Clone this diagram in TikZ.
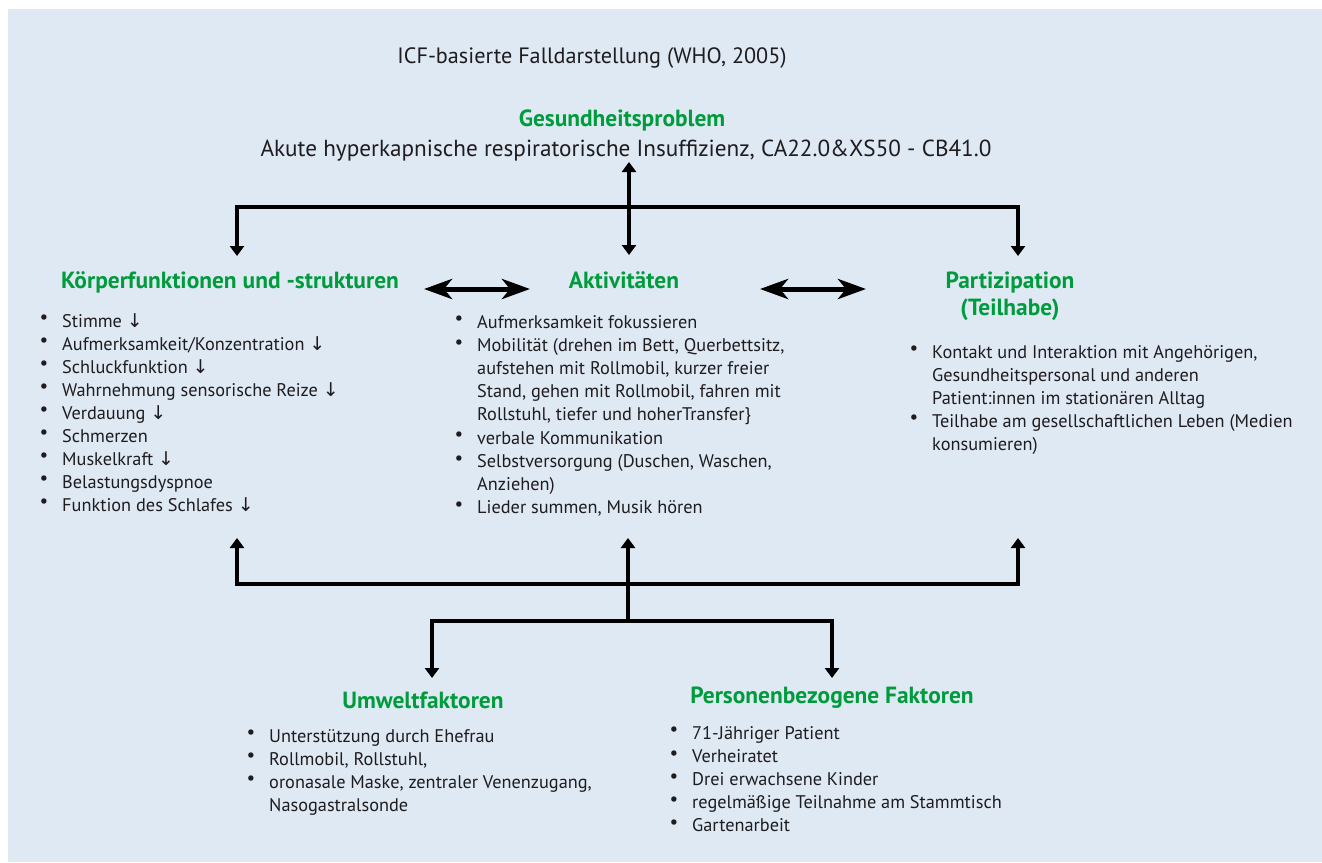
\documentclass[tikz,border=0pt]{standalone}
\usepackage{fontspec}
\setmainfont{PT Sans}
\newfontfamily\symf{DejaVu Sans}
\usetikzlibrary{arrows.meta}
\definecolor{bgc}{RGB}{223,233,244}
\definecolor{hgreen}{RGB}{0,155,60}
\definecolor{txt}{RGB}{30,28,30}
\newcommand{\bul}{\leavevmode\llap{\raisebox{0.35ex}{\scalebox{1.05}{\textbullet}}\hspace{14pt}}}
\newcommand{\dn}{{\symf\fontsize{19}{19}\selectfont ↓}}
\tikzset{
  hdr/.style={inner sep=0pt, text=hgreen, font=\bfseries\fontsize{23.4}{27}\selectfont},
  big/.style={inner sep=0pt, text=txt, font=\fontsize{23.2}{26}\selectfont},
  lst/.style={inner sep=0pt, text=txt, anchor=base west, font=\fontsize{18.3}{23}\selectfont},
  conn/.style={line width=3.5pt, draw=black, line join=miter},
  tip/.style={-{Triangle[length=10pt,width=14pt]}},
  dtip/.style={{Triangle[length=10pt,width=14pt]}-{Triangle[length=10pt,width=14pt]}},
  bigarr/.style={line width=5pt, {Stealth[length=28pt,width=20pt,inset=8pt]}-{Stealth[length=28pt,width=20pt,inset=8pt]}}
}
\begin{document}
\begin{tikzpicture}[x=1pt,y=-1pt]
\useasboundingbox (0,0) rectangle (1322,862);
\fill[bgc] (8,9) rectangle (1322,862);

\node[big, anchor=base, font=\fontsize{22.2}{26}\selectfont] (title) at (592,63) {ICF-basierte Falldarstellung (WHO, 2005)};
\node[hdr, anchor=base] (gp) at (622,126) {Gesundheitsproblem};
\node[big, anchor=base] (akute) at (626,156) {Akute hyperkapnische respiratorische Insuffizienz, CA22.0\&XS50 - CB41.0};

\node[hdr, anchor=base] (kf) at (230,288) {Körperfunktionen und -strukturen};
\node[hdr, anchor=base] (akt) at (624,288) {Aktivitäten};
\node[hdr, anchor=base] (part) at (1010,288) {\parbox[t]{240pt}{\centering Partizipation\\(Teilhabe)}};

\node[lst] (kfl) at (62,327) {\parbox[t]{360pt}{\raggedright
\bul Stimme \dn\\
\bul Aufmerksamkeit/Konzentration \dn\\
\bul Schluckfunktion \dn\\
\bul Wahrnehmung sensorische Reize \dn\\
\bul Verdauung \dn\\
\bul Schmerzen\\
\bul Muskelkraft \dn\\
\bul Belastungsdyspnoe\\
\bul Funktion des Schlafes \dn}};

\node[lst, font=\fontsize{18.3}{23.2}\selectfont] (aktl) at (477,328) {\parbox[t]{360pt}{\raggedright
\bul Aufmerksamkeit fokussieren\\
\bul Mobilität (drehen im Bett, Querbettsitz,\\
aufstehen mit Rollmobil, kurzer freier\\
Stand, gehen mit Rollmobil, fahren mit\\
Rollstuhl, tiefer und hoherTransfer\}\\
\bul verbale Kommunikation\\
\bul Selbstversorgung (Duschen, Waschen,\\
Anziehen)\\
\bul Lieder summen, Musik hören}};

\node[lst] (partl) at (932,358) {\parbox[t]{380pt}{\raggedright
\bul Kontakt und Interaktion mit Angehörigen,\\
Gesundheitspersonal und anderen\\
Patient:innen im stationären Alltag\\
\bul Teilhabe am gesellschaftlichen Leben (Medien\\
konsumieren)}};

\node[hdr, anchor=base] (uw) at (423,708) {Umweltfaktoren};
\node[hdr, anchor=base] (pb) at (832,703) {Personenbezogene Faktoren};

\node[lst] (uwl) at (269,742) {\parbox[t]{360pt}{\raggedright
\bul Unterstützung durch Ehefrau\\
\bul Rollmobil, Rollstuhl,\\
\bul oronasale Maske, zentraler Venenzugang,\\
Nasogastralsonde}};

\node[lst, font=\fontsize{18.3}{23.2}\selectfont] (pbl) at (692,739) {\parbox[t]{360pt}{\raggedright
\bul 71-Jähriger Patient\\
\bul Verheiratet\\
\bul Drei erwachsene Kinder\\
\bul regelmäßige Teilnahme am Stammtisch\\
\bul Gartenarbeit}};

% connector coordinates
\coordinate (gpA) at (629,162);
\coordinate (aktA) at (629,255);
\coordinate (topbar) at (629,207);
\coordinate (kfA) at (237,256);
\coordinate (partA) at (1018,256);
\coordinate (botbar) at (628,584);
\coordinate (kfB) at (237,538);
\coordinate (aktB) at (628,538);
\coordinate (partB) at (1018,538);
\coordinate (lowj) at (628,621);
\coordinate (uwA) at (432,678);
\coordinate (pbA) at (832,678);
\coordinate (ha1) at (424,289);
\coordinate (ha2) at (530,289);
\coordinate (hb1) at (760,289);
\coordinate (hb2) at (866,289);

\draw[conn, dtip] (gpA) -- (aktA);
\draw[conn, tip] (topbar) -| (kfA);
\draw[conn, tip] (topbar) -| (partA);
\draw[conn, tip] (botbar) -| (kfB);
\draw[conn, tip] (botbar) -| (partB);
\draw[conn, tip] (lowj) -- (aktB);
\draw[conn, tip] (lowj) -| (uwA);
\draw[conn, tip] (lowj) -| (pbA);
\draw[bigarr] (ha1) -- (ha2);
\draw[bigarr] (hb1) -- (hb2);
\end{tikzpicture}
\end{document}
